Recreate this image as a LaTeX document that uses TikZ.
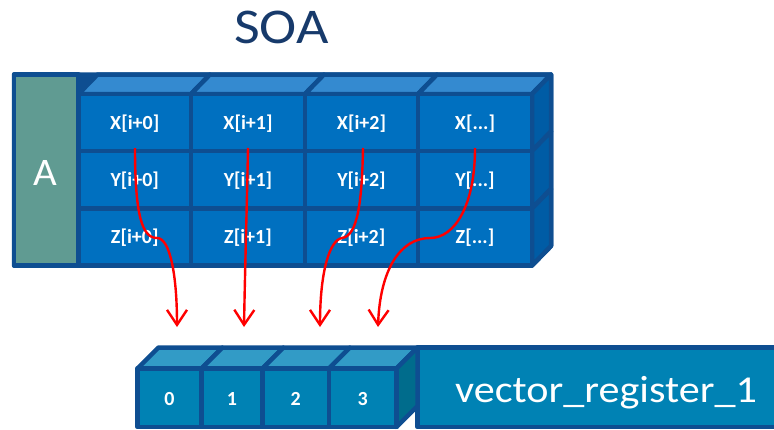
\documentclass[tikz,border=0pt]{standalone}
\usepackage{fontspec}
\setmainfont{Carlito}
\usetikzlibrary{arrows.meta}

\definecolor{edgeblue}{RGB}{14,78,145}
\definecolor{cellblue}{RGB}{0,112,192}
\definecolor{topblue}{RGB}{52,138,208}
\definecolor{sideblue}{RGB}{0,92,165}
\definecolor{panelteal}{RGB}{96,155,146}
\definecolor{regfill}{RGB}{0,130,180}
\definecolor{regtop}{RGB}{50,155,198}
\definecolor{regside}{RGB}{0,108,140}
\definecolor{titleblue}{RGB}{23,58,107}
\definecolor{arrowred}{RGB}{255,0,0}
\newcommand\tripledot{...}

\begin{document}
\begin{tikzpicture}[x=1pt,y=-1pt,
  face/.style={draw=edgeblue,line width=4.5pt,line join=round},
  celltext/.style={text=white,font=\fontsize{20}{20}\selectfont\bfseries,anchor=base,inner sep=0pt},
  widetext/.style={anchor=base,inner sep=0pt,transform shape,xscale=#1},
  link/.style={draw=arrowred,line width=2.4pt,
    -{Straight Barb[length=15pt,width=20pt,line width=2.4pt]}}]
\useasboundingbox (0,0) rectangle (774,429);

% title
\node[widetext=1.12,text=titleblue,font=\fontsize{50}{50}\selectfont] (title) at (281.5,43) {SOA};

% ---------- structure of arrays block ----------
\filldraw[face,fill=edgeblue] (14,74.5) -- (551,74.5) -- (551,246) -- (532,265.5) -- (14,265.5) -- cycle;
\filldraw[face,fill=panelteal] (14,74.5) rectangle (78.5,265.5);
\node[widetext=1.05,text=white,font=\fontsize{39}{39}\selectfont] (arr) at (45.5,185) {A};

\def\colx{{78.5,191,305,418,532}}
\def\rowy{{94,151,208.5,265.5}}
% top faces
\foreach \c in {0,1,2,3}{
  \pgfmathsetmacro\xa{\colx[\c]}
  \pgfmathsetmacro\xb{\colx[\c+1]}
  \filldraw[face,fill=topblue] (\xa,94) -- (\xa+19,74.5) -- (\xb+19,74.5) -- (\xb,94) -- cycle;
}
% right side faces
\foreach \r in {0,1,2}{
  \pgfmathsetmacro\ya{\rowy[\r]}
  \pgfmathsetmacro\yb{\rowy[\r+1]}
  \filldraw[face,fill=sideblue] (532,\ya) -- (551,\ya-19.5) -- (551,\yb-19.5) -- (532,\yb) -- cycle;
}
% front cells with labels
\foreach \r/\v in {0/X,1/Y,2/Z}{
  \foreach \c/\t in {0/i+0,1/i+1,2/i+2,3/\tripledot}{
    \pgfmathsetmacro\xa{\colx[\c]}
    \pgfmathsetmacro\xb{\colx[\c+1]}
    \pgfmathsetmacro\ya{\rowy[\r]}
    \pgfmathsetmacro\yb{\rowy[\r+1]}
    \filldraw[face,fill=cellblue] (\xa,\ya) rectangle (\xb,\yb);
    \node[celltext] (\v\c) at ({(\xa+\xb)/2},{(\ya+\yb)/2+6.5}) {\v[\t]};
  }
}

% ---------- vector register ----------
\filldraw[face,fill=regfill] (417.5,347.5) rectangle (790,427);
\node[widetext=1.11,text=white,font=\fontsize{38}{38}\selectfont] (reg) at (606,402) {vector\_register\_1};

\def\regx{{137.5,201.5,262.5,329,396.5}}
\foreach \c in {0,1,2,3}{
  \pgfmathsetmacro\xa{\regx[\c]}
  \pgfmathsetmacro\xb{\regx[\c+1]}
  \filldraw[face,fill=regtop] (\xa,368.5) -- (\xa+21,347.5) -- (\xb+21,347.5) -- (\xb,368.5) -- cycle;
}
\filldraw[face,fill=regside] (396.5,368.5) -- (417.5,347.5) -- (417.5,406) -- (396.5,427) -- cycle;
\foreach \c in {0,1,2,3}{
  \pgfmathsetmacro\xa{\regx[\c]}
  \pgfmathsetmacro\xb{\regx[\c+1]}
  \filldraw[face,fill=regfill] (\xa,368.5) rectangle (\xb,427);
  \node[celltext] (lane\c) at ({(\xa+\xb)/2},405) {\c};
}

% ---------- gather arrows ----------
\coordinate (s0) at (135,148);
\coordinate (s1) at (248,148);
\coordinate (s2) at (363,148);
\coordinate (s3) at (475,148);
\coordinate (t0) at (177,327);
\coordinate (t1) at (244,327);
\coordinate (t2) at (320,327);
\coordinate (t3) at (378,327);

\draw[link] (s0) .. controls (135,215) and (142,238) .. (157,238)
                 .. controls (170,238) and (177,275) .. (t0);
\draw[link] (s1) .. controls (247,200) and (245,270) .. (t1);
\draw[link] (s2) .. controls (362,200) and (358,236) .. (342,238)
                 .. controls (330,240) and (320,270) .. (t2);
\draw[link] (s3) .. controls (475,205) and (455,238) .. (430,238)
                 .. controls (400,238) and (380,270) .. (t3);
\end{tikzpicture}
\end{document}
